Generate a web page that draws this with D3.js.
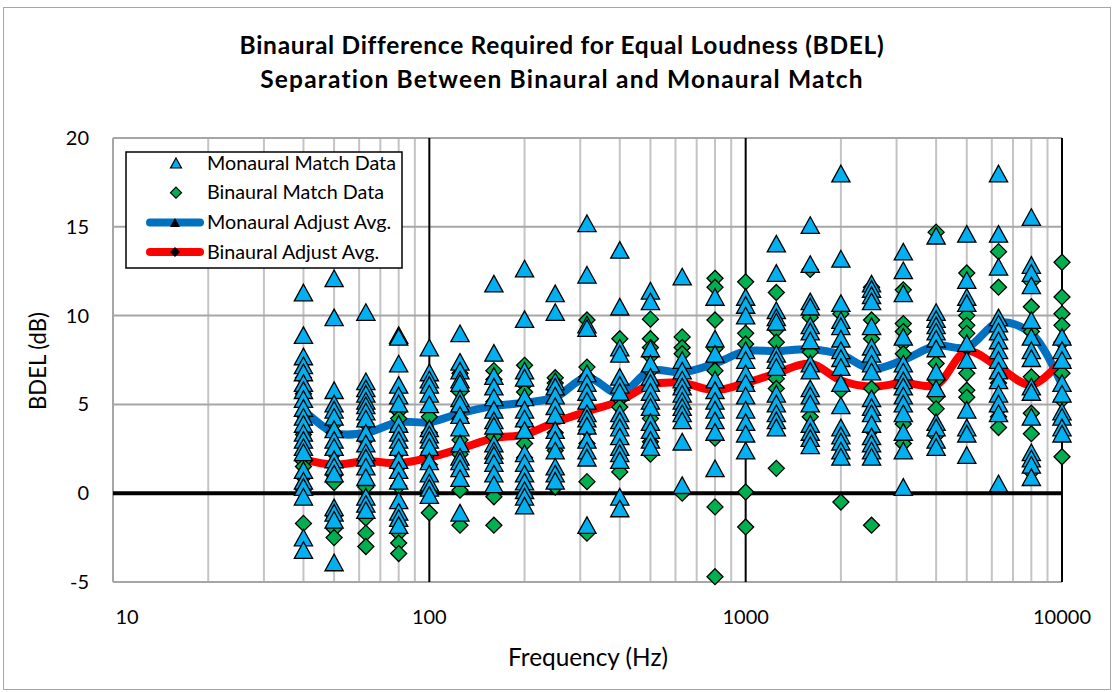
<!DOCTYPE html>
<html>
<head>
<meta charset="utf-8">
<script src="https://cdn.jsdelivr.net/npm/d3@7/dist/d3.min.js"></script>
<style>
  html, body { margin: 0; padding: 0; background: #fff; }
  svg { display: block; font-family: Lato, "Open Sans", sans-serif; }
</style>
</head>
<body>
<svg id="chart" width="1115" height="692"></svg>
<script>
// One-third-octave band centre frequencies (Hz)
const freqs = [40, 50, 63, 80, 100, 125, 160, 200, 250, 315, 400, 500, 630, 800,
               1000, 1250, 1600, 2000, 2500, 3150, 4000, 5000, 6300, 8000, 10000];

// Individual monaural-match BDEL values (dB), one list per frequency
const monauralData = [
  [11.3, 8.9, 7.7, 7.2, 6.8, 6.2, 5.8, 5.3, 4.8, 4.3, 3.9, 3.4, 3.0, 2.6, 2.3, 1.3, 0.7, 0.35, -0.2, -2.5, -3.2],
  [12.1, 9.9, 5.8, 5.05, 4.7, 4.3, 3.6, 3.0, 2.6, 1.9, 1.5, 1.1, -0.8, -1.1, -1.5, -3.9],
  [10.2, 6.3, 5.9, 5.6, 5.2, 4.95, 4.6, 4.2, 3.4, 2.8, 2.3, 2.0, 1.5, 0.9, -0.2, -0.6, -0.95],
  [8.9, 8.8, 7.3, 6.1, 5.5, 5.05, 3.9, 3.4, 3.0, 2.6, 1.86, 1.3, 0.7, -0.4, -1.05, -1.4, -1.8],
  [8.2, 6.8, 6.4, 6.1, 5.6, 5.0, 3.65, 3.3, 3.0, 2.6, 1.8, 1.1, 0.6, 0.3, -0.1],
  [9.0, 7.4, 6.9, 6.4, 6.2, 5.35, 5.05, 4.4, 3.7, 2.8, 2.05, 1.8, 1.4, 0.85, -1.1],
  [11.8, 7.9, 6.6, 6.0, 5.4, 4.7, 4.1, 3.8, 2.8, 2.4, 2.15, 1.7, 1.1, 0.5],
  [12.65, 9.8, 6.9, 6.5, 5.4, 4.7, 4.2, 3.55, 2.25, 1.7, 1.1, 0.65, 0.17, -0.2, -0.7],
  [11.25, 10.2, 6.3, 6.0, 5.5, 4.9, 4.4, 3.55, 3.0, 2.4, 1.5, 1.1, 0.7],
  [15.2, 12.3, 9.5, 9.3, 6.75, 6.2, 5.7, 5.2, 4.5, 4.2, 3.8, 3.0, 2.4, 2.0, -1.8],
  [13.7, 10.5, 8.2, 7.85, 6.55, 6.1, 5.7, 4.5, 4.1, 3.7, 3.2, 2.6, 2.25, 1.86, -0.2, -0.86],
  [11.4, 10.8, 8.15, 7.3, 6.55, 6.2, 5.7, 5.2, 4.85, 4.0, 3.55, 3.0, 2.6],
  [12.2, 7.5, 6.9, 6.4, 6.0, 5.6, 5.2, 4.85, 4.5, 4.1, 2.9, 0.45],
  [11.05, 8.7, 7.85, 6.4, 5.8, 5.2, 4.7, 4.1, 3.45, 1.4],
  [11.05, 10.6, 10.0, 8.05, 7.5, 6.75, 6.2, 5.5, 4.7, 4.0, 3.35, 2.4],
  [14.05, 12.4, 10.3, 9.9, 9.65, 7.85, 7.5, 7.1, 5.6, 5.05, 4.5, 4.1, 3.7],
  [15.1, 12.9, 10.8, 10.5, 9.45, 9.1, 8.6, 7.3, 6.9, 5.9, 5.5, 5.05, 3.9, 3.45, 3.1, 2.7],
  [18.0, 13.2, 10.7, 9.75, 9.4, 8.7, 8.05, 7.6, 7.1, 6.2, 4.95, 3.7, 3.25, 2.9, 2.4, 2.05],
  [11.8, 11.5, 11.15, 10.8, 9.4, 8.25, 7.85, 7.3, 6.85, 5.35, 4.85, 4.5, 3.9, 3.2, 2.8, 2.4, 2.05],
  [13.6, 12.55, 11.25, 8.8, 7.3, 6.85, 6.35, 6.0, 5.5, 5.05, 4.5, 3.45, 2.4, 0.35],
  [14.5, 10.2, 9.8, 9.45, 9.1, 8.7, 8.15, 6.85, 5.9, 4.0, 3.7, 3.0, 2.6],
  [14.6, 12.0, 11.05, 10.7, 8.45, 7.5, 4.7, 3.7, 3.35, 2.15],
  [18.0, 14.6, 12.75, 9.9, 9.55, 9.1, 8.6, 8.05, 7.5, 6.9, 6.35, 5.6, 5.05, 4.5, 0.55],
  [15.55, 12.85, 12.4, 11.7, 9.75, 8.8, 8.05, 7.6, 6.0, 5.7, 4.3, 2.3, 1.95, 1.6, 0.9],
  [8.8, 8.05, 7.5, 6.2, 5.6, 4.6, 4.3, 3.7, 3.35]
];

// Individual binaural-match BDEL values (dB), one list per frequency
const binauralData = [
  [6.5, 5.6, 4.4, 3.3, 1.8, 1.5, 0.9, 0.2, -1.7],
  [3.9, 3.4, 2.25, 1.6, 1.0, 0.6, -1.3, -2.0, -2.5],
  [5.5, 3.9, 3.0, 1.7, 0.35, -1.4, -2.25, -3.0],
  [4.6, 4.2, 3.6, 2.3, 1.5, 0.4, -2.25, -2.8, -3.4],
  [4.7, 4.3, 3.4, 2.3, 1.6, -1.1],
  [6.75, 5.7, 4.7, 4.2, 3.0, 2.2, 0.17, -1.8],
  [6.9, 6.4, 5.15, 4.4, 3.2, 2.0, 0.07, -0.2, -1.8],
  [7.2, 6.1, 5.7, 5.15, 3.9, 2.8, 2.0],
  [6.5, 6.2, 5.8, 3.4, 2.4, 0.35],
  [9.75, 7.1, 6.55, 3.55, 2.8, 0.65, -2.25],
  [8.7, 5.3, 4.85, 1.5, 1.2],
  [9.8, 8.7, 8.2, 7.7, 6.9, 4.2, 2.9, 2.2],
  [8.8, 8.2, 7.85, 5.8, 0.0],
  [12.1, 11.6, 9.75, 8.15, 6.9, 3.1, -0.77, -4.7],
  [11.9, 9.0, 8.4, 6.0, 0.07, -1.9],
  [11.3, 9.2, 8.5, 6.45, 5.9, 1.4],
  [12.6, 9.9, 7.95, 4.3],
  [10.1, 5.8, -0.5],
  [11.6, 9.75, 8.7, 5.9, 3.55, -1.8],
  [11.45, 9.55, 9.1, 8.45, 7.85, 3.9, 2.8],
  [14.7, 7.3, 6.35, 5.4, 4.75, 3.25],
  [12.4, 10.0, 9.45, 9.0, 6.75, 5.8, 5.4],
  [13.6, 11.6, 6.2, 4.7, 4.3, 3.7],
  [11.9, 10.5, 9.1, 6.55, 4.5, 3.35, 1.2],
  [13.0, 11.05, 10.1, 9.45, 8.5, 7.2, 6.75, 5.25, 2.05]
];

// Adjusted averages (dB)
const monauralAvg = [4.7, 3.4, 3.4, 4.0, 4.0, 4.5, 4.9, 5.1, 5.4, 6.5, 5.6, 6.9, 6.8, 7.3,
                     8.0, 8.0, 8.1, 7.8, 7.0, 7.5, 8.3, 8.2, 9.6, 9.0, 6.1];
const binauralAvg = [1.9, 1.6, 1.8, 1.7, 2.0, 2.5, 3.1, 3.3, 4.0, 4.6, 5.2, 6.1, 6.2, 5.8,
                     6.2, 6.75, 7.3, 6.35, 6.0, 6.2, 6.1, 8.0, 7.1, 6.1, 7.5];

const xTicks = [10, 100, 1000, 10000];
const yTicks = [-5, 0, 5, 10, 15, 20];

const titleLines = ["Binaural Difference Required for Equal Loudness (BDEL)",
                    "Separation Between Binaural and Monaural Match"];
const legendLabels = ["Monaural Match Data", "Binaural Match Data",
                      "Monaural Adjust Avg.", "Binaural Adjust Avg."];

const svg = d3.select("#chart");
const W = 1115, H = 692;
const plot = { left: 113, right: 1062, top: 138, bottom: 582 };

const x = d3.scaleLog().domain([10, 10000]).range([plot.left, plot.right]);
const y = d3.scaleLinear().domain([-5, 20]).range([plot.bottom, plot.top]);

const BLUE_FILL = "#00B0F0", GREEN_FILL = "#00B050";
const BLUE_LINE = "#0070C0", RED_LINE = "#FF0000";

// Spread a text element's letters so it spans the given width
function spreadTo(sel, width) {
  sel.each(function () {
    const t = d3.select(this);
    const n = t.text().length;
    const w = this.getComputedTextLength();
    if (n > 1) t.attr("letter-spacing", (width - w) / n);
  });
}
// Scale a text element's font so it spans the given width
function scaleTo(sel, width) {
  sel.each(function () {
    const t = d3.select(this);
    const fs = +t.attr("font-size");
    const w = this.getComputedTextLength();
    t.attr("font-size", fs * width / w);
  });
}

svg.append("rect").attr("width", W).attr("height", H).attr("fill", "#fff");
// chart frame
svg.append("rect").attr("x", 3.5).attr("y", 7.5).attr("width", 1107).attr("height", 682)
  .attr("fill", "none").attr("stroke", "#a6a6a6").attr("stroke-width", 1);

// title
const titleWidths = [644, 604];
svg.append("g").selectAll("text").data(titleLines).join("text")
  .attr("x", 562).attr("y", (d, i) => 54 + i * 34)
  .attr("text-anchor", "middle").attr("font-weight", "bold").attr("font-size", 24.5)
  .attr("fill", "#000").text(d => d)
  .each(function (d, i) { spreadTo(d3.select(this), titleWidths[i]); });

const grid = svg.append("g");
// minor vertical gridlines
const minorX = [];
[10, 100, 1000].forEach(dec => { for (let k = 2; k <= 9; k++) minorX.push(dec * k); });
grid.selectAll("line.minor").data(minorX).join("line")
  .attr("x1", d => x(d)).attr("x2", d => x(d))
  .attr("y1", plot.top).attr("y2", plot.bottom)
  .attr("stroke", "#c4c4c4").attr("stroke-width", 2);
// horizontal gridlines
grid.selectAll("line.h").data(yTicks).join("line")
  .attr("x1", plot.left).attr("x2", plot.right)
  .attr("y1", d => y(d)).attr("y2", d => y(d))
  .attr("stroke", "#a6a6a6").attr("stroke-width", 2);
// left boundary
grid.append("line").attr("x1", x(10)).attr("x2", x(10))
  .attr("y1", plot.top).attr("y2", plot.bottom)
  .attr("stroke", "#a6a6a6").attr("stroke-width", 2);
// decade lines
grid.selectAll("line.major").data([100, 1000, 10000]).join("line")
  .attr("x1", d => x(d)).attr("x2", d => x(d))
  .attr("y1", plot.top).attr("y2", plot.bottom)
  .attr("stroke", "#000").attr("stroke-width", 2);
// zero line
grid.append("line").attr("x1", plot.left).attr("x2", plot.right)
  .attr("y1", y(0)).attr("y2", y(0))
  .attr("stroke", "#000").attr("stroke-width", 4);

// axis labels
svg.append("g").selectAll("text").data(yTicks).join("text")
  .attr("x", 89).attr("y", d => y(d) + 7).attr("text-anchor", "end")
  .attr("font-size", 20).text(d => d);
svg.append("g").selectAll("text").data(xTicks).join("text")
  .attr("x", (d, i) => x(d) + (i === 0 ? 14 : 0)).attr("y", 624).attr("text-anchor", "middle")
  .attr("font-size", 20).text(d => d);
svg.append("text").attr("x", 588).attr("y", 666).attr("text-anchor", "middle")
  .attr("font-size", 20).text("Frequency (Hz)").call(scaleTo, 160);
svg.append("text").attr("transform", "translate(46,361) rotate(-90)")
  .attr("text-anchor", "middle").attr("font-size", 20).text("BDEL (dB)").call(scaleTo, 98);

// marker shapes
const tri = (s) => `M0,${-s} L${s * 1.1},${s} L${-s * 1.1},${s} Z`;
const dia = (s) => `M0,${-s} L${s},0 L0,${s} L${-s},0 Z`;

// smoothed average lines
const line = d3.line().x(d => x(d[0])).y(d => y(d[1])).curve(d3.curveCatmullRom.alpha(0.5));
const avgSeries = [
  { vals: monauralAvg, color: BLUE_LINE, shape: tri(4.5) },
  { vals: binauralAvg, color: RED_LINE, shape: dia(5) }
];
avgSeries.forEach(s => {
  const pts = freqs.map((f, i) => [f, s.vals[i]]);
  svg.append("path").datum(pts).attr("d", line)
    .attr("fill", "none").attr("stroke", s.color).attr("stroke-width", 8)
    .attr("stroke-linejoin", "round");
  svg.append("g").selectAll("path").data(pts).join("path")
    .attr("transform", d => `translate(${x(d[0])},${y(d[1])})`)
    .attr("d", s.shape).attr("fill", "#000");
});

// scatter points
const flatten = (arr) => arr.flatMap((vals, i) => vals.map(v => [freqs[i], v]));
svg.append("g").selectAll("path").data(flatten(binauralData)).join("path")
  .attr("transform", d => `translate(${x(d[0])},${y(d[1])})`)
  .attr("d", dia(8)).attr("fill", GREEN_FILL)
  .attr("stroke", "#000").attr("stroke-width", 1.3).attr("stroke-linejoin", "miter");
svg.append("g").selectAll("path").data(flatten(monauralData)).join("path")
  .attr("transform", d => `translate(${x(d[0])},${y(d[1])})`)
  .attr("d", tri(8.3)).attr("fill", BLUE_FILL)
  .attr("stroke", "#000").attr("stroke-width", 1.3).attr("stroke-linejoin", "miter");

// legend
const lg = svg.append("g");
lg.append("rect").attr("x", 126).attr("y", 152).attr("width", 276).attr("height", 116)
  .attr("fill", "#fff").attr("stroke", "#000").attr("stroke-width", 1.5);
const rowY = (i) => 163 + i * 29.7;
const legendText = lg.selectAll("text").data(legendLabels).join("text")
  .attr("x", 207).attr("y", (d, i) => rowY(i) + 6.5).attr("font-size", 19).text(d => d);
// common size so the first entry spans its measured width
const firstW = legendText.node().getComputedTextLength();
legendText.attr("font-size", 19 * 189 / firstW);
lg.append("path").attr("transform", `translate(176,${rowY(0)})`).attr("d", tri(5))
  .attr("fill", BLUE_FILL).attr("stroke", "#000").attr("stroke-width", 1.2);
lg.append("path").attr("transform", `translate(176,${rowY(1)})`).attr("d", dia(5.5))
  .attr("fill", GREEN_FILL).attr("stroke", "#000").attr("stroke-width", 1.2);
[[2, BLUE_LINE, tri(4.5)], [3, RED_LINE, dia(5)]].forEach(([i, c, shp]) => {
  lg.append("line").attr("x1", 150).attr("x2", 200).attr("y1", rowY(i)).attr("y2", rowY(i))
    .attr("stroke", c).attr("stroke-width", 8).attr("stroke-linecap", "round");
  lg.append("path").attr("transform", `translate(175,${rowY(i)})`).attr("d", shp).attr("fill", "#000");
});
</script>
</body>
</html>
